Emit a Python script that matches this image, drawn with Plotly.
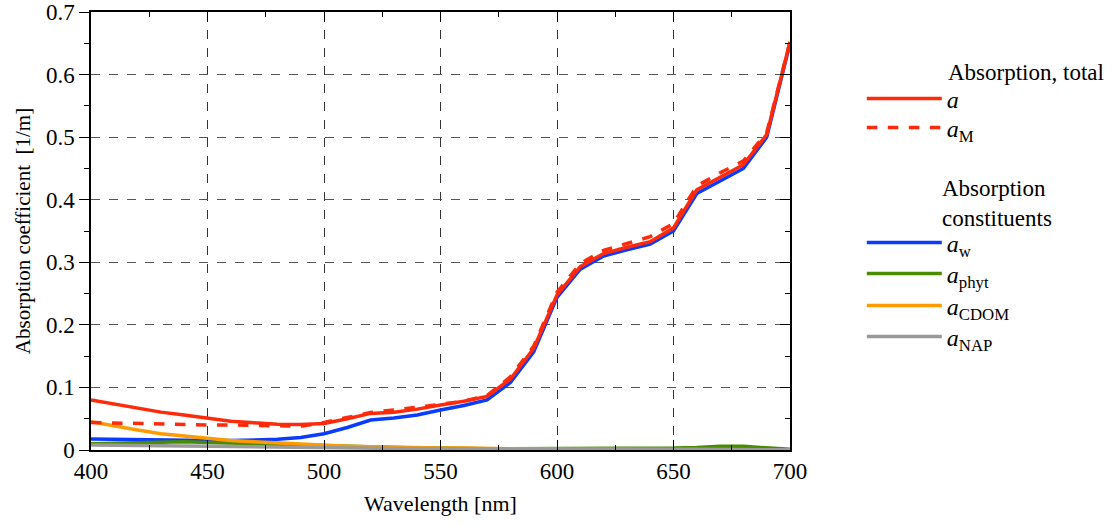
import plotly.graph_objects as go

wavelength = [400, 410, 420, 430, 440, 450, 460, 470, 480, 490, 500, 510, 520, 530, 540, 550,
              560, 570, 580, 590, 600, 610, 620, 630, 640, 650, 660, 670, 680, 690, 700]

a_total = [0.080, 0.0735, 0.067, 0.0605, 0.056, 0.0505, 0.046, 0.0435, 0.041, 0.0407, 0.0424,
           0.050, 0.0585, 0.0605, 0.0653, 0.072, 0.0778, 0.0856, 0.1135, 0.1623, 0.248, 0.293,
           0.314, 0.324, 0.333, 0.355, 0.416, 0.436, 0.456, 0.504, 0.652]

a_M = [0.044, 0.043, 0.042, 0.041, 0.041, 0.040, 0.040, 0.039, 0.038, 0.038, 0.044, 0.052,
       0.060, 0.064, 0.068, 0.073, 0.078, 0.087, 0.117, 0.166, 0.252, 0.298, 0.319, 0.330,
       0.341, 0.362, 0.422, 0.443, 0.462, 0.507, 0.652]

a_w = [0.0175, 0.017, 0.016, 0.015, 0.015, 0.015, 0.015, 0.016, 0.017, 0.020, 0.026, 0.036,
       0.048, 0.051, 0.056, 0.064, 0.071, 0.080, 0.108, 0.157, 0.244, 0.289, 0.310, 0.320,
       0.329, 0.350, 0.410, 0.430, 0.450, 0.500, 0.650]

a_phyt = [0.010, 0.011, 0.012, 0.013, 0.013, 0.012, 0.011, 0.010, 0.009, 0.008, 0.006, 0.005,
          0.004, 0.003, 0.003, 0.003, 0.002, 0.002, 0.002, 0.002, 0.002, 0.002, 0.002, 0.002,
          0.002, 0.003, 0.004, 0.006, 0.006, 0.003, 0.001]

a_CDOM = [0.045, 0.038, 0.032, 0.026, 0.022, 0.018, 0.015, 0.013, 0.011, 0.009, 0.007, 0.006,
          0.005, 0.004, 0.004, 0.003, 0.003, 0.002, 0.002, 0.002, 0.001, 0.001, 0.001, 0.001,
          0.001, 0.001, 0.001, 0.001, 0.0005, 0.0005, 0.0005]

a_NAP = [0.008, 0.0075, 0.007, 0.0065, 0.006, 0.0055, 0.005, 0.0045, 0.004, 0.0037, 0.0034,
         0.003, 0.0028, 0.0025, 0.0023, 0.002, 0.0018, 0.0016, 0.0015, 0.0013, 0.001, 0.001,
         0.001, 0.001, 0.001, 0.001, 0.001, 0.001, 0.0008, 0.0006, 0.0005]

FONT = "Times New Roman, serif"
RED = "#ff2a0a"
BLUE = "#0a3cff"
GREEN = "#4a8c00"
ORANGE = "#ff9a00"
GRAY = "#999999"

H = 525
fig = go.Figure()

# (name, data, colour, dash, legend id, legend line y in px)
series = [("<i>a</i><sub>w</sub>", a_w, BLUE, "solid", "legend3", 243),
          ("<i>a</i><sub>phyt</sub>", a_phyt, GREEN, "solid", "legend4", 274),
          ("<i>a</i><sub>CDOM</sub>", a_CDOM, ORANGE, "solid", "legend5", 306),
          ("<i>a</i><sub>NAP</sub>", a_NAP, GRAY, "solid", "legend6", 337),
          ("<i>a</i>", a_total, RED, "solid", "legend", 99),
          ("<i>a</i><sub>M</sub>", a_M, RED, "dash", "legend2", 128)]

legend_layouts = {}
for name, y, col, dash, leg, py in series:
    fig.add_trace(go.Scatter(x=wavelength, y=y, mode="lines", name=name,
                             line=dict(color=col, width=3.5, dash=dash), legend=leg))
    legend_layouts[leg] = dict(xref="container", yref="container", x=0.775, y=1 - py / H,
                               xanchor="left", yanchor="middle",
                               font=dict(family=FONT, size=24), itemwidth=75,
                               bgcolor="rgba(0,0,0,0)")

# invisible trace for right-side axis ticks
fig.add_trace(go.Scatter(x=[wavelength[0]], y=[a_total[0]], yaxis="y2", mode="lines",
                         showlegend=False, hoverinfo="skip", line=dict(width=0)))

fig.update_layout(
    width=1112, height=H,
    margin=dict(l=91, r=322, t=12, b=75),
    paper_bgcolor="white", plot_bgcolor="white",
    font=dict(family=FONT, size=22, color="black"),
    xaxis=dict(range=[400, 700], dtick=50, tick0=400, automargin=False,
               ticks="inside", ticklen=10, tickwidth=1, tickcolor="black",
               showline=True, linecolor="black", linewidth=1.5, mirror="ticks",
               showgrid=True, gridcolor="#333333", griddash="dash", gridwidth=1,
               zeroline=False,
               minor=dict(dtick=25, ticks="inside", ticklen=5, tickcolor="black", showgrid=False),
               title=dict(text="Wavelength [nm]", font=dict(family=FONT, size=22), standoff=12),
               tickfont=dict(family=FONT, size=23)),
    yaxis=dict(range=[0, 0.7], dtick=0.1, tick0=0, automargin=False,
               ticks="outside", ticklen=10, tickwidth=1, tickcolor="black",
               showline=True, linecolor="black", linewidth=1.5, mirror=True,
               showgrid=True, gridcolor="#555555", griddash="dash", gridwidth=1,
               zeroline=False,
               minor=dict(dtick=0.05, ticks="outside", ticklen=5, tickcolor="black", showgrid=False),
               title=dict(text="Absorption coefficient\u00a0\u00a0[1/m]", font=dict(family=FONT, size=21), standoff=10),
               tickfont=dict(family=FONT, size=23)),
    yaxis2=dict(range=[0, 0.7], dtick=0.1, overlaying="y", side="right", automargin=False,
                ticks="inside", ticklen=10, tickcolor="black", showticklabels=False,
                showgrid=False, zeroline=False, showline=False,
                minor=dict(dtick=0.05, ticks="inside", ticklen=5, tickcolor="black")),
    annotations=[
        dict(xref="paper", yref="paper", x=(946 - 91) / 699, y=(H - 72 - 75) / 438,
             text="Absorption, total", showarrow=False, xanchor="left", yanchor="middle",
             font=dict(family=FONT, size=23)),
        dict(xref="paper", yref="paper", x=(940 - 91) / 699, y=(H - 203 - 75) / 438,
             text="Absorption<br>constituents", showarrow=False, xanchor="left", yanchor="middle",
             align="left", font=dict(family=FONT, size=23)),
    ],
    showlegend=True,
    **legend_layouts,
)

fig.write_html("out.html")
